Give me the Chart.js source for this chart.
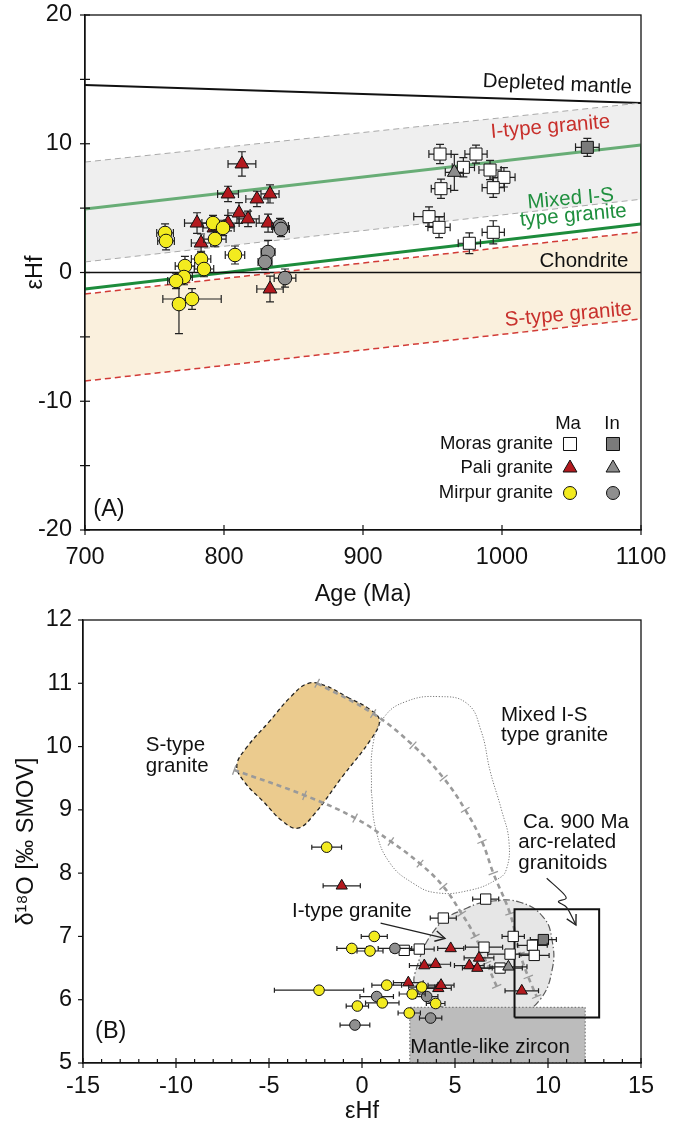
<!DOCTYPE html>
<html>
<head>
<meta charset="utf-8">
<title>Zircon Hf-O isotopes</title>
<script src="https://cdn.jsdelivr.net/npm/chart.js@4.4.1/dist/chart.umd.min.js"></script>
<style>
  body { margin: 0; background: #fff; }
  #wrap { position: relative; width: 675px; height: 1130px; }
  canvas { position: absolute; left: 0; }
</style>
</head>
<body>
<div id="wrap">
  <canvas id="hfAge" width="675" height="610" style="top:0"></canvas>
  <canvas id="oHf" width="675" height="530" style="top:600px"></canvas>
</div>
<script>
// ---------- (A) eHf vs age, points are [age, eHf, ageErr, eHfErr] ----------
const moraMa = [
  [955.4, 9.20, 8, 0.75], [981.3, 9.20, 8, 0.7], [972.2, 8.17, 8, 0.75], [991.4, 7.96, 8, 0.75],
  [1001.4, 7.39, 8, 0.75], [993.7, 6.59, 8, 0.75], [956.1, 6.51, 7, 0.75], [947.5, 4.34, 11, 0.75],
  [954.7, 3.51, 8, 0.8], [993.7, 3.12, 8, 0.9], [976.5, 2.27, 8, 0.8]
];
const moraIn = [[1061.4, 9.72, 8.5, 0.7]];
const paliMa = [
  [812.9, 8.43, 10, 0.95], [802.9, 6.10, 7.5, 0.6], [823.7, 5.71, 8, 0.6], [833.1, 6.10, 6.5, 0.7],
  [810.8, 4.62, 8, 0.8], [817.3, 4.16, 8, 0.6], [780.6, 3.84, 9, 0.8], [802.9, 3.84, 8, 0.6],
  [831.7, 3.84, 8.5, 0.7], [792.8, 3.46, 8, 0.6], [783.5, 2.29, 7, 0.7], [833.1, -1.28, 9.5, 1.0]
];
const paliIn = [[965.7, 7.78, 6.5, 1.4]];
const mirpurMa = [
  [757.6, 3.07, 6, 0.7], [758.3, 2.45, 6, 0.7], [792.1, 3.84, 8, 0.6], [799.3, 3.46, 8, 0.6],
  [793.5, 2.60, 8, 0.6], [807.9, 1.36, 7, 0.7], [771.9, 0.50, 7, 0.75], [783.5, 1.05, 7, 0.6],
  [785.6, 0.27, 7, 0.6], [771.2, -0.35, 6, 0.6], [765.5, -0.66, 6, 0.6], [767.6, -2.45, 3, 2.3],
  [777.0, -2.06, 21, 0.8]
];
const mirpurIn = [[840.3, 3.61, 6, 0.6], [841.0, 3.38, 6, 0.6], [831.7, 1.59, 5, 0.9], [829.5, 0.82, 5, 0.6], [843.9, -0.43, 7.8, 0.7]];

// reference lines / fields [age, eHf]
const depletedMantle = [[700, 14.56], [1100, 13.17]];
const chondrite = [[700, 0], [1100, 0]];
const iTypeTop = [[700, 8.58], [1100, 13.17]];
const iTypeBase = [[700, 0.82], [1100, 5.69]];
const mixedTop = [[700, 4.93], [1100, 9.9]];
const mixedBase = [[700, -1.28], [1100, 3.77]];
const mixedLeft = [[700, -1.28], [700, 4.93]];
const mixedRight = [[1100, 3.77], [1100, 9.9]];
const sTypeTop = [[700, -1.67], [1100, 3.15]];
const sTypeBase = [[700, -8.43], [1100, -3.6]];

// ---------- (B) d18O vs eHf, points are [eHf, d18O, eHfErr] ----------
const moraMa2 = [
  [6.65, 7.59, 0.7], [4.37, 7.29, 0.7], [8.13, 7.00, 0.6], [9.16, 6.86, 0.8], [2.27, 6.78, 0.7],
  [3.08, 6.80, 0.8], [6.56, 6.83, 1.0], [7.96, 6.72, 1.2], [9.26, 6.70, 0.8], [7.42, 6.50, 1.2]
];
const moraIn2 = [[9.75, 6.95, 0.7]];
const paliMa2 = [
  [-1.09, 7.80, 1.0], [4.77, 6.81, 0.7], [3.35, 6.54, 0.8], [3.96, 6.56, 0.8], [2.49, 6.27, 0.8],
  [4.10, 6.18, 0.7], [4.25, 6.23, 0.7], [6.29, 6.66, 0.8], [5.77, 6.54, 0.8], [6.20, 6.50, 0.8], [8.59, 6.14, 0.9]
];
const paliIn2 = [[7.87, 6.52, 1.0]];
const mirpurMa2 = [
  [-1.90, 8.41, 0.8], [0.66, 7.00, 0.7], [-0.55, 6.81, 0.8], [0.43, 6.77, 0.7], [-2.31, 6.15, 2.4],
  [1.33, 6.23, 0.8], [3.21, 6.20, 0.7], [2.70, 6.09, 0.7], [1.09, 5.95, 0.9], [-0.25, 5.90, 0.6],
  [3.96, 5.94, 0.5], [2.54, 5.79, 0.6]
];
const mirpurIn2 = [[1.77, 6.81, 0.9], [0.79, 6.05, 0.9], [3.48, 6.05, 0.6], [-0.38, 5.60, 0.8], [3.69, 5.71, 0.6]];

// fields and curves [eHf, d18O]
const sTypeField = [
  [-0.78, 10.78], [0.41, 10.59], [0.94, 10.41], [0.47, 10.11], [-1.07, 9.52], [-2.60, 8.92], [-3.45, 8.71],
  [-4.27, 8.82], [-5.30, 9.13], [-6.32, 9.44], [-6.73, 9.70], [-6.19, 9.99], [-5.0, 10.39], [-3.82, 10.79],
  [-2.89, 11.0], [-1.96, 10.96], [-0.78, 10.78]
];
const mixedField = [
  [0.5, 9.3], [0.6, 10.05], [1.2, 10.47], [2.35, 10.71], [4.1, 10.79], [5.65, 10.68], [6.4, 10.25],
  [6.9, 9.6], [7.5, 9.0], [7.9, 8.5], [7.75, 8.05], [7.25, 7.9], [5.8, 7.73], [4.0, 7.69], [2.75, 7.84],
  [1.5, 8.16], [0.75, 8.68], [0.5, 9.3]
];
const iTypeField = [
  [7.26, 5.76], [5.27, 5.84], [3.66, 5.95], [2.96, 6.15], [2.85, 6.42], [4.03, 7.15], [5.65, 7.45],
  [7.04, 7.56], [8.49, 7.54], [9.73, 7.31], [10.22, 6.94], [10.22, 6.47], [9.57, 6.0], [8.49, 5.79], [7.26, 5.76]
];
const mantleZircon = [[2.57, 5], [2.57, 5.88], [12, 5.88], [12, 5], [2.57, 5]];
const arcBox = [[8.2, 5.72], [8.2, 7.43], [12.75, 7.43], [12.75, 5.72], [8.2, 5.72]];
const mixCurve1 = [[-2.41, 11.0], [0.6, 10.52], [2.74, 10.02], [4.39, 9.5], [5.55, 9.0], [6.45, 8.5], [7.06, 8.0], [7.96, 7.36], [8.49, 6.73], [8.94, 6.36], [9.39, 6.05]];
const mixCurve2 = [[-6.87, 9.63], [-3.09, 9.23], [-0.37, 8.87], [1.55, 8.5], [3.12, 8.15], [4.37, 7.79], [5.36, 7.36], [6.08, 7.0], [6.7, 6.58], [7.24, 6.21]];
const iTypeArrow = [[1.0, 7.21], [4.46, 6.97]];
const arcArrow = [[9.93, 7.92], [10.82, 7.68], [10.97, 7.60], [10.56, 7.55], [11.0, 7.46], [11.5, 7.18]];

Chart.defaults.font.family = '"Liberation Sans", Arial, sans-serif';
Chart.defaults.color = '#111';

const xy = arr => arr.map(p => ({ x: p[0], y: p[1] }));

function lineDs(pts, color, width, dash, extra) {
  return Object.assign({
    type: 'line', data: xy(pts), borderColor: color, borderWidth: width, borderDash: dash || [],
    pointRadius: 0, pointHoverRadius: 0, fill: false, tension: 0, order: 10
  }, extra || {});
}
function markDs(arr, style, bg, r, extra) {
  return Object.assign({
    type: 'scatter', data: xy(arr), err: arr.map(p => [p[2] || 0, p[3] || 0]),
    pointStyle: style, backgroundColor: bg, borderColor: '#111', borderWidth: 1,
    pointRadius: r, pointHoverRadius: r, order: 0
  }, extra || {});
}

// error bars behind each marker dataset
const errorBars = {
  id: 'errorBars',
  beforeDatasetDraw(chart, args) {
    const ds = chart.data.datasets[args.index];
    if (!ds.err) return;
    const { ctx, scales: { x, y } } = chart;
    const cap = ds.cap || 4;
    ctx.save();
    ctx.strokeStyle = '#222';
    ctx.lineWidth = 1.2;
    ds.data.forEach((p, i) => {
      const [ex, ey] = ds.err[i];
      const px = x.getPixelForValue(p.x), py = y.getPixelForValue(p.y);
      ctx.beginPath();
      if (ex) {
        const a = x.getPixelForValue(p.x - ex), b = x.getPixelForValue(p.x + ex);
        ctx.moveTo(a, py); ctx.lineTo(b, py);
        ctx.moveTo(a, py - cap); ctx.lineTo(a, py + cap);
        ctx.moveTo(b, py - cap); ctx.lineTo(b, py + cap);
      }
      if (ey) {
        const a = y.getPixelForValue(p.y - ey), b = y.getPixelForValue(p.y + ey);
        ctx.moveTo(px, a); ctx.lineTo(px, b);
        ctx.moveTo(px - cap, a); ctx.lineTo(px + cap, a);
        ctx.moveTo(px - cap, b); ctx.lineTo(px + cap, b);
      }
      ctx.stroke();
    });
    ctx.restore();
  }
};

// cross ticks on mixing curves, arrow heads on arrows
const curveDeco = {
  id: 'curveDeco',
  afterDatasetDraw(chart, args) {
    const ds = chart.data.datasets[args.index];
    const pts = args.meta.data;
    if (!pts || pts.length < 2) return;
    const ctx = chart.ctx;
    ctx.save();
    if (ds.marks) {
      ctx.strokeStyle = '#9a9a9a';
      ctx.lineWidth = 1.3;
      pts.forEach((p, i) => {
        const a = pts[Math.max(i - 1, 0)], b = pts[Math.min(i + 1, pts.length - 1)];
        const dx = b.x - a.x, dy = b.y - a.y, len = Math.hypot(dx, dy) || 1;
        const nx = -dy / len * 5, ny = dx / len * 5;
        ctx.beginPath();
        ctx.moveTo(p.x - nx, p.y - ny); ctx.lineTo(p.x + nx, p.y + ny);
        ctx.stroke();
      });
    }
    if (ds.arrow) {
      const tip = pts[pts.length - 1], prev = pts[pts.length - 2];
      const ang = Math.atan2(tip.y - prev.y, tip.x - prev.x);
      ctx.strokeStyle = ds.borderColor;
      ctx.lineWidth = 1.4;
      ctx.setLineDash([]);
      ctx.beginPath();
      ctx.moveTo(tip.x - 11 * Math.cos(ang - 0.5), tip.y - 11 * Math.sin(ang - 0.5));
      ctx.lineTo(tip.x, tip.y);
      ctx.lineTo(tip.x - 11 * Math.cos(ang + 0.5), tip.y - 11 * Math.sin(ang + 0.5));
      ctx.stroke();
    }
    ctx.restore();
  }
};

// box round the plot area plus tick marks (some drawn inwards)
const frame = {
  id: 'frame',
  afterDatasetsDraw(chart, args, opts) {
    const { ctx, chartArea: a, scales } = chart;
    ctx.save();
    ctx.strokeStyle = '#111';
    ctx.lineWidth = 1.3;
    ctx.strokeRect(a.left, a.top, a.width, a.height);
    ctx.lineWidth = 1.2;
    ['x', 'y'].forEach(id => {
      const s = scales[id], o = opts[id];
      if (!o) return;
      s.ticks.forEach(t => {
        const major = !o.every || Math.abs(t.value % o.every) < 1e-9;
        const [outL, inL] = major ? o.major : o.minor;
        const p = s.getPixelForValue(t.value);
        ctx.beginPath();
        if (id === 'x') { ctx.moveTo(p, a.bottom + outL); ctx.lineTo(p, a.bottom - inL); }
        else { ctx.moveTo(a.left - outL, p); ctx.lineTo(a.left + inL, p); }
        ctx.stroke();
      });
    });
    ctx.restore();
  }
};

const notes = {
  id: 'notes',
  afterDatasetsDraw(chart, args, opts) {
    const { ctx, scales: { x, y } } = chart;
    (opts.items || []).forEach(n => {
      ctx.save();
      ctx.translate(x.getPixelForValue(n.x), y.getPixelForValue(n.y));
      ctx.rotate((n.rot || 0) * Math.PI / 180);
      ctx.font = (n.size || 20.5) + 'px "Liberation Sans", Arial, sans-serif';
      ctx.fillStyle = n.color || '#111';
      ctx.textAlign = n.align || 'left';
      ctx.textBaseline = 'middle';
      ctx.fillText(n.text, 0, 0);
      ctx.restore();
    });
  }
};

function symbol(ctx, style, x, y, r) {
  ctx.beginPath();
  if (style === 'circle') ctx.arc(x, y, r, 0, 2 * Math.PI);
  else if (style === 'rect') ctx.rect(x - r * 0.707, y - r * 0.707, r * 1.414, r * 1.414);
  else {
    for (let k = 0; k < 3; k++) {
      const a = k * 2 * Math.PI / 3;
      ctx[k ? 'lineTo' : 'moveTo'](x + Math.sin(a) * r, y - Math.cos(a) * r);
    }
    ctx.closePath();
  }
  ctx.fill();
  ctx.stroke();
}

// legend of panel A, built from the marker datasets
const legendA = {
  id: 'legendA',
  afterDraw(chart) {
    const { ctx, chartArea: a } = chart;
    const rowsY = [a.bottom - 86, a.bottom - 62, a.bottom - 37];
    const colX = [a.right - 71, a.right - 28];
    ctx.save();
    ctx.font = '18.5px "Liberation Sans", Arial, sans-serif';
    ctx.fillStyle = '#111';
    ctx.textBaseline = 'middle';
    ctx.textAlign = 'center';
    ctx.fillText('Ma', colX[0] - 2, a.bottom - 106);
    ctx.fillText('In', colX[1] - 1, a.bottom - 106);
    chart.data.datasets.forEach(ds => {
      if (ds.legendRow === undefined) return;
      const yy = rowsY[ds.legendRow];
      if (ds.legendCol === 0) {
        ctx.fillStyle = '#111';
        ctx.textAlign = 'right';
        ctx.fillText(ds.label, a.right - 88, yy);
      }
      ctx.fillStyle = ds.backgroundColor;
      ctx.strokeStyle = '#111';
      ctx.lineWidth = 1;
      symbol(ctx, ds.pointStyle, colX[ds.legendCol], yy, ds.pointStyle === 'rect' ? 9.2 : ds.pointStyle === 'circle' ? 6.5 : 8);
    });
    ctx.restore();
  }
};

const tickFont = { size: 23.5 };
function axis(min, max, step, tickCb, pad, extra) {
  return Object.assign({
    type: 'linear', min, max,
    ticks: { stepSize: step, font: tickFont, color: '#111', autoSkip: false, maxRotation: 0, padding: pad, callback: tickCb },
    grid: { drawOnChartArea: false, drawTicks: false },
    border: { display: true, color: '#111', width: 1.3 }
  }, extra || {});
}
const plain = v => String(v);

// ---------- chart A ----------
new Chart(document.getElementById('hfAge'), {
  type: 'scatter',
  data: {
    datasets: [
      lineDs(iTypeTop, '#a9a9a9', 1, [6, 4], { fill: '+1', backgroundColor: '#efefef' }),
      lineDs(iTypeBase, '#a9a9a9', 1, [6, 4]),
      lineDs(sTypeTop, '#d23b36', 1.5, [6, 4], { fill: '+1', backgroundColor: '#faf0dd' }),
      lineDs(sTypeBase, '#d23b36', 1.5, [6, 4]),
      lineDs(depletedMantle, '#111', 2),
      lineDs(chondrite, '#111', 1.5),
      lineDs(mixedTop, '#68ad76', 3),
      lineDs(mixedBase, '#1d8c3c', 3),
      lineDs(mixedLeft, '#1d8c3c', 1.5),
      lineDs(mixedRight, '#1d8c3c', 1.5),
      markDs(mirpurMa, 'circle', '#f3eb1f', 6.8, { label: 'Mirpur granite', legendRow: 2, legendCol: 0 }),
      markDs(mirpurIn, 'circle', '#8f8f8f', 6.8, { label: 'Mirpur granite', legendRow: 2, legendCol: 1 }),
      markDs(paliMa, 'triangle', '#b3191e', 8, { label: 'Pali granite', legendRow: 1, legendCol: 0 }),
      markDs(paliIn, 'triangle', '#8c8c8c', 8, { label: 'Pali granite', legendRow: 1, legendCol: 1 }),
      markDs(moraMa, 'rect', '#ffffff', 8.5, { label: 'Moras granite', legendRow: 0, legendCol: 0 }),
      markDs(moraIn, 'rect', '#7b7b7b', 8.5, { label: 'Moras granite', legendRow: 0, legendCol: 1 })
    ]
  },
  options: {
    responsive: false,
    animation: false,
    layout: { padding: { top: 15, right: 34, left: 0, bottom: 0 } },
    plugins: {
      legend: { display: false },
      tooltip: { enabled: false },
      filler: { drawTime: 'beforeDatasetsDraw' },
      frame: { x: { major: [5, 5] }, y: { major: [5, 5] } },
      notes: {
        items: [
          { x: 1093.5, y: 14.35, text: 'Depleted mantle', align: 'right', rot: 2.5 },
          { x: 1077.7, y: 11.7, text: 'I-type granite', align: 'right', rot: -5, color: '#c8302c' },
          { x: 1049.4, y: 5.71, text: 'Mixed I-S', align: 'center', rot: -5, color: '#1f8f3e' },
          { x: 1051.3, y: 4.41, text: 'type granite', align: 'center', rot: -5, color: '#1f8f3e' },
          { x: 1090.9, y: 0.84, text: 'Chondrite', align: 'right' },
          { x: 1093.5, y: -2.85, text: 'S-type granite', align: 'right', rot: -5, color: '#c8302c' },
          { x: 706, y: -18.4, text: '(A)', align: 'left', size: 23.5 }
        ]
      }
    },
    scales: {
      x: axis(700, 1100, 100, plain, 13, {
        afterFit: s => { s.height = 80; s.paddingLeft = 10; s.paddingRight = 10; },
        title: { display: true, text: 'Age (Ma)', font: { size: 23.5 }, color: '#111', padding: { top: 0, bottom: 1 } }
      }),
      y: axis(-20, 20, 5, v => (v % 10 === 0 ? String(v) : ''), 13, {
        afterFit: s => { s.width = 85; s.paddingTop = 12; s.paddingBottom = 12; },
        title: { display: true, text: 'εHf', font: { size: 23.5 }, color: '#111', padding: { top: 21, bottom: 0 } }
      })
    }
  },
  plugins: [errorBars, frame, notes, legendA]
});

// ---------- chart B ----------
new Chart(document.getElementById('oHf'), {
  type: 'scatter',
  data: {
    datasets: [
      markDs(mirpurMa2, 'circle', '#f3eb1f', 5.3, { cap: 2.5 }),
      markDs(mirpurIn2, 'circle', '#8f8f8f', 5.3, { cap: 2.5 }),
      markDs(paliMa2, 'triangle', '#b3191e', 6.5, { cap: 2.5 }),
      markDs(paliIn2, 'triangle', '#8c8c8c', 6.5, { cap: 2.5 }),
      markDs(moraMa2, 'rect', '#ffffff', 7.3, { cap: 2.5 }),
      markDs(moraIn2, 'rect', '#7b7b7b', 7.3, { cap: 2.5 }),
      lineDs(iTypeArrow, '#222', 1.2, [], { order: 2, arrow: true }),
      lineDs(arcArrow, '#222', 1.2, [], { order: 2, arrow: true, tension: 0.35 }),
      lineDs(arcBox, '#111', 2, [], { order: 2 }),
      lineDs(mixCurve1, '#9a9a9a', 2.6, [5, 4], { order: 3, tension: 0.4, marks: true }),
      lineDs(mixCurve2, '#9a9a9a', 2.6, [5, 4], { order: 3, tension: 0.4, marks: true }),
      lineDs(mantleZircon, '#666', 1, [1.5, 2], { order: 4, fill: 'shape', backgroundColor: '#bcbcbc' }),
      lineDs(iTypeField, '#5a5a5a', 1.2, [7, 2.5, 1.5, 2.5], { order: 5, fill: 'shape', backgroundColor: '#e6e6e6', tension: 0.45 }),
      lineDs(mixedField, '#7a7a7a', 1, [1.2, 1.6], { order: 6, tension: 0.45 }),
      lineDs(sTypeField, '#222', 1.3, [4, 3], { order: 7, fill: 'shape', backgroundColor: '#ebcb8e', tension: 0.4 })
    ]
  },
  options: {
    responsive: false,
    animation: false,
    layout: { padding: { top: 20, right: 34, left: 0, bottom: 0 } },
    plugins: {
      legend: { display: false },
      tooltip: { enabled: false },
      filler: { drawTime: 'beforeDatasetDraw' },
      frame: { x: { every: 5, major: [5, 5], minor: [0, 4] }, y: { major: [5, 0] } },
      notes: {
        items: [
          { x: -11.62, y: 10.02, text: 'S-type' },
          { x: -11.62, y: 9.69, text: 'granite' },
          { x: 7.47, y: 10.5, text: 'Mixed I-S' },
          { x: 7.47, y: 10.17, text: 'type granite' },
          { x: 8.65, y: 8.81, text: 'Ca. 900 Ma' },
          { x: 8.4, y: 8.48, text: 'arc-related' },
          { x: 8.4, y: 8.16, text: 'granitoids' },
          { x: -3.76, y: 7.39, text: 'I-type granite' },
          { x: 2.6, y: 5.25, text: 'Mantle-like zircon' },
          { x: -14.35, y: 5.49, text: '(B)', size: 23.5 }
        ]
      }
    },
    scales: {
      x: axis(-15, 15, 1, v => (v % 5 === 0 ? String(v) : ''), 9, {
        afterFit: s => { s.height = 67; s.paddingLeft = 10; s.paddingRight = 10; },
        title: { display: true, text: 'εHf', font: { size: 23.5 }, color: '#111', padding: { top: 0, bottom: 4 } }
      }),
      y: axis(5, 12, 1, plain, 11, {
        afterFit: s => { s.width = 83; s.paddingTop = 12; s.paddingBottom = 12; },
        title: { display: true, text: 'δ¹⁸O [‰ SMOV]', font: { size: 23.5 }, color: '#111', padding: { top: 12, bottom: 0 } }
      })
    }
  },
  plugins: [errorBars, curveDeco, frame, notes]
});
</script>
</body>
</html>
